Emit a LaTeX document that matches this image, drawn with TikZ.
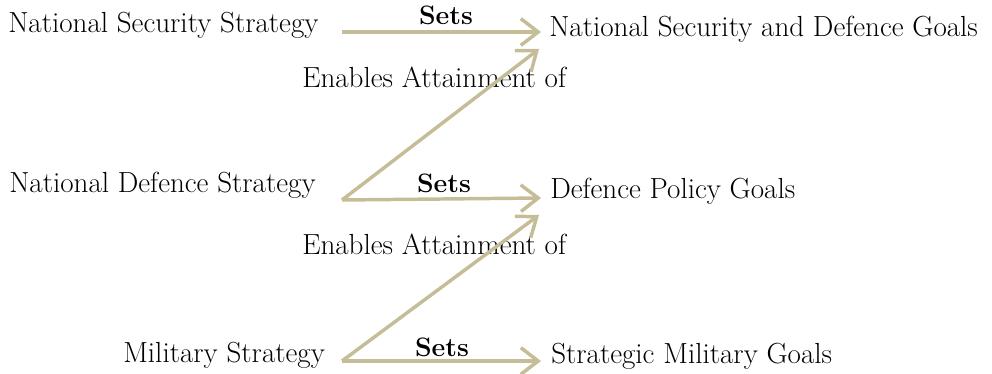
\documentclass[tikz,border=0pt]{standalone}
\usetikzlibrary{arrows.meta}
\definecolor{sandline}{RGB}{196,189,151}
\tikzset{
  label-text/.style={inner sep=0pt, font=\fontsize{21.8}{26}\selectfont},
  sets-text/.style={inner sep=0pt, font=\fontsize{20}{24}\selectfont\bfseries},
  goal-arrow/.style={draw=sandline, line width=2.6pt,
    -{Straight Barb[length=13pt, width=20pt, line width=2.6pt]}}
}
\begin{document}
\begin{tikzpicture}[x=0.75pt, y=-0.75pt]
    \useasboundingbox (0,0) rectangle (992,374);
    % Nodes
    \node[label-text, anchor=base west] (nss) at (8,33) {National Security Strategy};
    \node[label-text, anchor=base west] (nds) at (9,193) {National Defence Strategy};
    \node[label-text, anchor=base west] (ms) at (123,362) {Military Strategy};
    \node[label-text, anchor=base west] (nsdg) at (549,37) {National Security and Defence Goals};
    \node[label-text, anchor=base west] (dpg) at (550,199) {Defence Policy Goals};
    \node[label-text, anchor=base west] (smg) at (551,363) {Strategic Military Goals};
    \node[label-text, anchor=base west] (enables-top) at (302,88) {Enables Attainment of};
    \node[label-text, anchor=base west] (enables-bottom) at (302,254) {Enables Attainment of};
    \node[sets-text, anchor=base] (sets-top) at (446,25) {Sets};
    \node[sets-text, anchor=base] (sets-mid) at (444,193) {Sets};
    \node[sets-text, anchor=base] (sets-bottom) at (442,356) {Sets};

    % arrow ends
    \coordinate (nss-out) at (342,32);
    \coordinate (nds-out) at (342,200);
    \coordinate (ms-out) at (342,361);
    \coordinate (nsdg-in) at (541,32);
    \coordinate (nsdg-in-low) at (539,49);
    \coordinate (dpg-in) at (541,198);
    \coordinate (dpg-in-low) at (539,215);
    \coordinate (smg-in) at (541,361);

    % Lines
    \draw[goal-arrow] (nss-out) -- (nsdg-in);
    \draw[goal-arrow] (nds-out) -- (nsdg-in-low);
    \draw[goal-arrow] (nds-out) -- (dpg-in);
    \draw[goal-arrow] (ms-out) -- (dpg-in-low);
    \draw[goal-arrow] (ms-out) -- (smg-in);

\end{tikzpicture}
\end{document}
